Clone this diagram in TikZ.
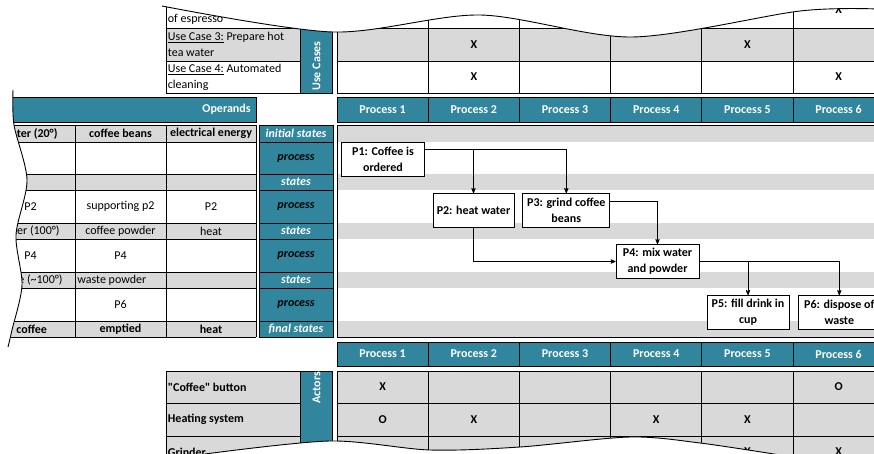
\documentclass[tikz,border=0pt]{standalone}
\usepackage{fontspec}
\setmainfont{Carlito}
\usepackage{tikz}
\usetikzlibrary{positioning}
\usetikzlibrary{arrows}
\definecolor{headteal}{RGB}{49,133,156}
\definecolor{rowgray}{RGB}{217,217,217}
\tikzset{head cell/.style={fill=headteal,draw=black},
         head text/.style={text=white,font=\bfseries},
         label cell/.style={head cell,font=\bfseries\itshape,minimum width=74pt,inner sep=0pt},
         row text/.style={anchor=west,inner sep=1.5pt,align=left},
         tick text/.style={font=\bfseries},
         proc box/.style={draw,fill=white,font=\bfseries,align=center,inner sep=1pt,minimum height=34pt},
         cut line/.style={line width=0.9pt},}
\begin{document}
\fontsize{12}{16}\selectfont
\begin{tikzpicture}[x=1pt, y=-1pt, >=stealth', line width=0.8pt]
\useasboundingbox (0,0) rectangle (874,454);
\clip (0,0) rectangle (874,454);

% use cases
\fill[rowgray] (166,28) rectangle (300,61);
\fill[rowgray] (337,28) rectangle (884,61);
\draw (166,-5) -- (166,93) -- (300,93) -- (300,-5);
\draw (166,28) -- (300,28) (166,61) -- (300,61);
\draw[head cell] (300,-5) rectangle (332,93);
\draw (337,-5) rectangle (884,93);
\draw (337,28) -- (884,28) (337,61) -- (884,61);
\foreach \i in {1,...,5}
  \draw ({337+91.2*\i},-5) -- ({337+91.2*\i},93);
\node[row text] (uc2) at (166,19) {of espresso};
\node[row text] (uc3) at (166,44.5) {\underline{Use Case 3:} Prepare hot\\tea water};
\node[row text] (uc4) at (166,77.5) {\underline{Use Case 4:} Automated\\cleaning};
\node[head text, rotate=90] (usecases) at (316.5,66) {Use Cases};

% process headers
\foreach \rowy/\h in {97/25,342/24}
  \foreach \i in {1,...,6}
    \node[head cell, head text, minimum width=91.2pt, minimum height=\h pt, inner sep=0pt]
      (hd\rowy-\i) at ({337+91.2*(\i-0.5)},{\rowy+\h/2}) {Process \i};

% operands
\draw[head cell] (-5,97) rectangle (256,122);
\node[head text, anchor=east] (operands) at (255,109.5) {Operands};
\foreach \ya/\yb in {125/142,174/190,223/239,272/288,321/337} {
  \fill[rowgray] (-5,\ya) rectangle (256,\yb);
  \fill[rowgray] (337,\ya) rectangle (884,\yb);
}
\foreach \yy in {125,142,174,190,223,239,272,288,321,337}
  \draw (-5,\yy) -- (256,\yy);
\draw (75,125) -- (75,337) (166,125) -- (166,337) (256,125) -- (256,337);
\draw (337,125) rectangle (884,337);
\foreach \ya/\yb/\lbl/\tc [count=\k] in {125/142/initial states/white, 142/174/process/black,
    174/190/states/white, 190/223/process/black, 223/239/states/white,
    239/272/process/black, 272/288/states/white, 288/321/process/black,
    321/337/final states/white}
  \node[label cell, text=\tc, minimum height={\yb-\ya}] (lbl\k) at (296,{(\ya+\yb)/2}) {\lbl};

\node[font=\bfseries, anchor=east, inner sep=1pt] (wa1) at (59,133.5) {ter (20°)};
\node[font=\bfseries] (be1) at (120.5,133.5) {coffee beans};
\node[font=\bfseries] (en1) at (211,133.5) {electrical energy};
\node[anchor=west, inner sep=1pt] (wa2) at (23,206.5) {P2};
\node (be2) at (120.5,206.5) {supporting p2};
\node (en2) at (211,206.5) {P2};
\node[anchor=east, inner sep=1pt] (wa3) at (61,231) {ter (100°)};
\node (be3) at (120.5,231) {coffee powder};
\node (en3) at (211,231) {heat};
\node[anchor=west, inner sep=1pt] (wa4) at (23,255.5) {P4};
\node (be4) at (120.5,255.5) {P4};
\node[anchor=east, inner sep=1pt] (wa5) at (64,280) {e (\textasciitilde100°)};
\node[anchor=west, inner sep=1pt] (be5) at (76,280) {waste powder};
\node (be6) at (120.5,304.5) {P6};
\node[font=\bfseries, anchor=west, inner sep=1pt] (wa7) at (15,329) {coffee};
\node[font=\bfseries] (be7) at (120.5,329) {emptied};
\node[font=\bfseries] (en7) at (211,329) {heat};

% process flow
\node[proc box, minimum width=83pt] (p1) at (383,159) {P1: Coffee is\\ordered};
\node[proc box, minimum width=81pt] (p2) at (473.5,210.5) {P2: heat water};
\node[proc box, minimum width=87pt, right=8pt of p2] (p3) {P3: grind coffee\\beans};
\node[proc box, minimum width=83pt] (p4) at (657.5,261.5) {P4: mix water\\and powder};
\node[proc box, minimum width=82pt] (p5) at (748,312.5) {P5: fill drink in\\cup};
\node[proc box, minimum width=82pt, right=8.5pt of p5] (p6) {P6: dispose of\\waste};

\draw[->] ([yshift=10pt]p1.east) -| (p2.north);
\draw[->] ([yshift=10pt]p1.east) -| (p3.north);
\draw[->] ([yshift=9pt]p3.east) -| (p4.north);
\draw[->] (p2.south) |- (p4.west);
\draw[->] (p4.east) -| (p5.north);
\draw[->] (p4.east) -| (p6.north);

% actors
\fill[rowgray] (166,371) rectangle (300,469);
\fill[rowgray] (337,371) rectangle (884,469);
\draw (166,469) -- (166,371) -- (300,371) -- (300,469);
\draw (166,403) -- (300,403) (166,436) -- (300,436);
\draw[head cell] (300,371) rectangle (332,469);
\draw (337,469) -- (337,371) -- (884,371);
\draw (337,403) -- (884,403) (337,436) -- (884,436);
\foreach \i in {1,...,5}
  \draw ({337+91.2*\i},371) -- ({337+91.2*\i},469);
\node[row text, font=\bfseries] (btn) at (166,387) {\textquotedbl Coffee\textquotedbl{} button};
\node[row text, font=\bfseries] (heating) at (166,419.5) {Heating system};
\node[row text, font=\bfseries] (grinder) at (166,452) {Grinder};
\node[head text, rotate=90] (actors) at (316.5,387.5) {Actors};

\foreach \i/\yy/\t [count=\k] in {6/10/X, 2/44.5/X, 5/44.5/X, 2/77/X, 6/77/X,
    1/387/X, 6/387/O, 1/419.5/O, 2/419.5/X, 4/419.5/X, 5/419.5/X, 5/452/X, 6/452/X}
  \node[tick text] (mark\k) at ({337+91.2*(\i-0.5)},\yy) {\t};

% cut edges
\fill[white] (150,-3) -- plot[smooth] coordinates {(162,6) (333,32) (480,15) (632,37) (800,11) (878,9)} -- (878,-3) -- cycle;
\draw[cut line] plot[smooth] coordinates {(162,6) (333,32) (480,15) (632,37) (800,11) (878,9)};
\fill[white] (-6,85) -- plot[smooth] coordinates {(13,90) (14,125) (27,180) (16,235) (22,285) (12,330) (8,347)} -- (-6,347) -- cycle;
\draw[cut line] plot[smooth] coordinates {(13,90) (14,125) (27,180) (16,235) (22,285) (12,330) (8,347)};
\fill[white] (200,458) -- plot[smooth] coordinates {(205,454) (330,441) (430,450) (520,447) (630,437) (700,443) (780,455)} -- (785,458) -- cycle;
\draw[cut line] plot[smooth] coordinates {(205,454) (330,441) (430,450) (520,447) (630,437) (700,443) (780,455)};
\end{tikzpicture}
\end{document}
